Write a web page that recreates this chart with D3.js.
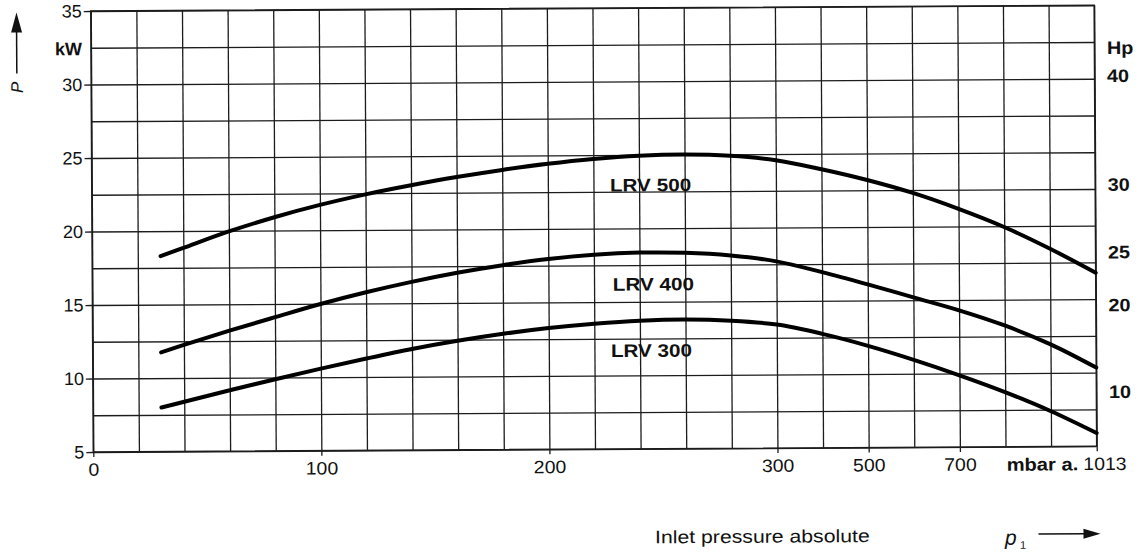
<!DOCTYPE html>
<html><head><meta charset="utf-8">
<script src="https://cdn.jsdelivr.net/npm/d3@7"></script>
<style>
body{margin:0;background:#fff}
text{font-family:"Liberation Sans",Arial,Helvetica,sans-serif;fill:#111}
</style>
</head><body>
<svg id="c" width="1140" height="552"></svg>
<script>
// ---- data ----
const pressure = [30,40,60,80,100,120,140,160,180,200,220,240,260,280,300,400,500,600,700,804,909,1013];
const lrv500 = [18.3,18.85,19.95,20.9,21.72,22.42,23.02,23.56,24.03,24.43,24.74,24.94,25.0,24.9,24.58,23.95,23.2,22.3,21.2,19.95,18.45,16.8];
const lrv400 = [11.75,12.25,13.2,14.1,14.98,15.76,16.45,17.05,17.55,17.95,18.22,18.35,18.32,18.12,17.7,16.95,16.1,15.2,14.3,13.25,11.95,10.35];
const lrv300 = [8.0,8.38,9.15,9.88,10.58,11.25,11.88,12.42,12.88,13.25,13.53,13.72,13.78,13.68,13.4,12.75,11.92,10.95,9.88,8.72,7.4,5.9];
const seriesNames = ["LRV 500","LRV 400","LRV 300"];
const labelMbar = [245,246,245];
const labelKw = [22.95,16.2,11.69];

const xBreaks = [0,300,500,700,1013];          // non-linear pressure axis
const xBreakCells = [0,15,17,19,22];
const xGrid = [0,20,40,60,80,100,120,140,160,180,200,220,240,260,280,300,400,500,600,700,804.33,908.67,1013];
const xTickVals = [0,100,200,300,500,700,1013];
const xTickText = ["0","100","200","300","500","700","1013"];
const yGrid = [5,7.5,10,12.5,15,17.5,20,22.5,25,27.5,30,32.5,35];
const yTicks = [5,10,15,20,25,30,35];
const hpText = ["Hp","40","30","25","20","10"];
const hpKw = [32.1,30.2,22.8,18.2,14.6,8.7];

// ---- layout ----
const x0 = 93.3, cell = 45.61, yBot = 452, yTop = 11;
const plotW = cell*22, plotH = yBot - yTop;
const x = d3.scaleLinear().domain(xBreaks).range(xBreakCells.map(c => x0 + c*cell));
const y = d3.scaleLinear().domain([5,35]).range([yBot, yTop]);

const svg = d3.select("#c");
svg.append("rect").attr("width",1140).attr("height",552).attr("fill","#fff");
const g = svg.append("g").attr("transform",`rotate(-0.33,${x0},${yBot})`);

const gridCol = "#1c1c1c";
// grid
const gx = g.append("g").attr("transform",`translate(0,${yBot})`)
  .call(d3.axisBottom(x).tickValues(xGrid).tickSize(-plotH).tickFormat(""));
const gy = g.append("g").attr("transform",`translate(${x0},0)`)
  .call(d3.axisLeft(y).tickValues(yGrid).tickSize(-plotW).tickFormat(""));
[gx,gy].forEach(a=>{a.select(".domain").remove();a.selectAll("line").attr("stroke",gridCol).attr("stroke-width",1.3);});

// frame
g.append("rect").attr("x",x0).attr("y",yTop).attr("width",plotW).attr("height",plotH)
  .attr("fill","none").attr("stroke",gridCol).attr("stroke-width",1.5);

// left axis labels
const ax = g.append("g").attr("transform",`translate(${x0},0)`)
  .call(d3.axisLeft(y).tickValues(yTicks).tickSize(7).tickPadding(2));
ax.select(".domain").remove();
ax.selectAll("line").attr("stroke",gridCol).attr("stroke-width",1.3);
ax.selectAll("text").attr("font-size",18).attr("fill","#111").style("font-family",null);

// bottom axis labels
const bx = g.append("g").attr("transform",`translate(0,${yBot})`)
  .call(d3.axisBottom(x).tickValues(xTickVals).tickFormat((d,i)=>xTickText[i]).tickSize(5).tickPadding(6));
bx.select(".domain").remove();
bx.selectAll("line").attr("stroke",gridCol).attr("stroke-width",1.3);
bx.selectAll("text").attr("font-size",18).attr("fill","#111")
  .attr("text-anchor", d => d===1013 ? "start" : "middle")
  .attr("x", d => d===1013 ? -14/1.08 : 0)
  .attr("transform","scale(1.08,1)");

g.append("text").attr("transform",`translate(${x(1013)-18.5},${yBot+24}) scale(1.12,1)`)
  .attr("text-anchor","end").attr("font-size",18).attr("font-weight","bold").text("mbar a.");

// kW unit
g.append("text").attr("x",x0-9).attr("y",y(32.5)+1).attr("dy","0.35em")
  .attr("text-anchor","end").attr("font-size",18).attr("font-weight","bold").text("kW");

// Hp labels on right
g.selectAll(".hp").data(hpText).enter().append("text")
  .attr("transform",(d,i)=>`translate(${x(1013)+12.5},${y(hpKw[i])}) scale(1.1,1)`)
  .attr("dy","0.35em").attr("font-size",18).attr("font-weight","bold").text(d=>d);

// curves
const line = d3.line().x(d=>x(d[0])).y(d=>y(d[1])).curve(d3.curveCatmullRom.alpha(0.5));
[lrv500,lrv400,lrv300].forEach(s=>{
  g.append("path").datum(pressure.map((p,i)=>[p,s[i]]))
   .attr("d",line).attr("fill","none").attr("stroke","#000").attr("stroke-width",4)
   .attr("stroke-linecap","round").attr("stroke-linejoin","round");
});
// curve labels
seriesNames.forEach((n,i)=>{
  g.append("text").attr("transform",`translate(${x(labelMbar[i])},${y(labelKw[i])}) scale(1.15,1)`)
   .attr("text-anchor","middle").attr("dy","0.35em").attr("font-size",18).attr("font-weight","bold").text(n);
});

// P axis title + arrow
g.append("text").attr("transform","translate(19,87) rotate(-90)").attr("text-anchor","middle")
  .attr("dy","0.35em").attr("font-size",17).style("font-style","italic").text("P");
g.append("line").attr("x1",19).attr("x2",19).attr("y1",73).attr("y2",28).attr("stroke","#111").attr("stroke-width",1.5);
g.append("path").attr("d","M19,12 L13.5,32 L24.5,32 Z").attr("fill","#111");

// x title
g.append("text").attr("transform","translate(654.5,546.5) scale(1.18,1)").attr("font-size",18).text("Inlet pressure absolute");
g.append("text").attr("x",1004.5).attr("y",550).attr("font-size",21).style("font-style","italic").text("p");
g.append("text").attr("x",1019.5).attr("y",554).attr("font-size",11).text("1");
g.append("line").attr("x1",1038).attr("x2",1086).attr("y1",539.5).attr("y2",539.5).attr("stroke","#111").attr("stroke-width",1.5);
g.append("path").attr("d","M1100,539.5 L1083,534.5 L1083,544.5 Z").attr("fill","#111");
</script>
</body></html>
